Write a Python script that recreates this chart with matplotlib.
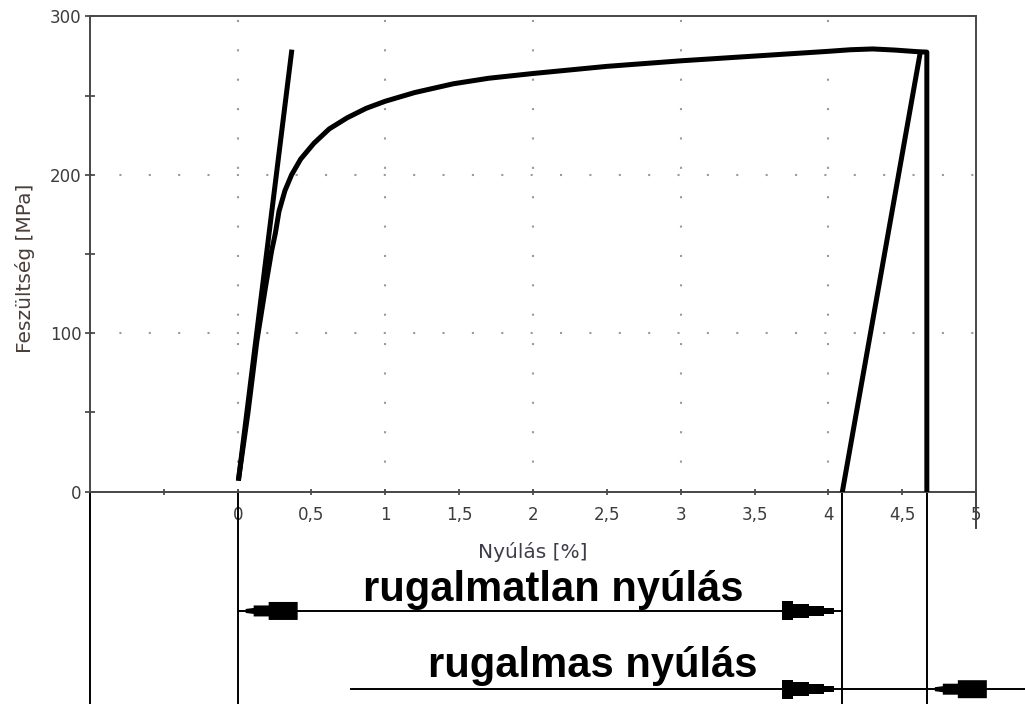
import numpy as np
import matplotlib
matplotlib.use("Agg")
import matplotlib.pyplot as plt
from matplotlib.patches import Polygon
from matplotlib.transforms import ScaledTranslation

# stress-strain curve (strain %, stress MPa)
curve_x = [0.007, 0.07, 0.13, 0.19, 0.23, 0.255, 0.28, 0.32, 0.365, 0.427, 0.517,
           0.62, 0.741, 0.87, 1.0, 1.2, 1.46, 1.7, 2.0, 2.5, 3.0, 3.5, 4.0, 4.15,
           4.3, 4.45, 4.6, 4.667, 4.667]
curve_y = [8.5, 50, 95, 130, 152, 163, 177, 190, 200, 210, 220,
           229, 236, 242, 246.5, 252, 257.5, 261, 264, 268.5, 272, 275, 278, 279,
           279.5, 278.8, 277.8, 277.5, 0]

# elastic (Hooke) line and the unloading line
elastic_x = [0.007, 0.365]
elastic_y = [8.5, 277.5]
unload_x = [4.095, 4.62]
unload_y = [0, 276]

xticks = [-0.5, 0, 0.5, 1, 1.5, 2, 2.5, 3, 3.5, 4, 4.5, 5]
yticks = [0, 100, 200, 300]
yminor = [50, 150, 250]
grid_x = [0, 1, 2, 3, 4]
grid_y = [100, 200]

# dimension lines below the chart
x_break = 4.095      # foot of unloading line
x_end = 4.667        # fracture strain
dim1_y = -75.3
dim2_y = -124.7
dim2_start = 0.766
bottom_y = -140

label_col = "#3c3c3c"

fig = plt.figure(figsize=(10.25, 7.04), dpi=100)
ax = fig.add_axes([0.0878, 0.3016, 0.8644, 0.675])
ax.set_xlim(-1, 5)
ax.set_ylim(0, 300)

for s in ax.spines.values():
    s.set_color("#484848")
    s.set_linewidth(1.4)

# sparse dotted grid
for gx in grid_x:
    ax.axvline(gx, color="#9a9a9a", lw=1.5, ls=(0, (1.0, 13.1)), zorder=1)
for gy in grid_y:
    ax.axhline(gy, color="#9a9a9a", lw=1.5, ls=(0, (1.0, 13.1)), zorder=1)

ax.plot(curve_x, curve_y, color="black", lw=3.6, zorder=3)
ax.plot(elastic_x, elastic_y, color="black", lw=3.6, zorder=3)
ax.plot(unload_x, unload_y, color="black", lw=3.6, zorder=3)

ax.set_xticks(xticks)
ax.set_xticklabels(["" if v < 0 else f"{v:g}".replace(".", ",") for v in xticks])
ax.set_yticks(yticks)
ax.set_yticks(yminor, minor=True)
ax.tick_params(axis="x", direction="inout", length=5, width=1.2, color="#404040",
               labelsize=12, labelcolor=label_col, pad=8)
ax.tick_params(axis="y", which="both", direction="inout", length=6.5, width=1.2,
               color="#404040", labelsize=12, labelcolor=label_col, pad=3)

ax.set_xlabel("Nyúlás [%]", fontsize=14.5, color="#3d3d4a", va="top")
ax.xaxis.set_label_coords(0.5, -0.105)
ax.set_ylabel("Feszültség [MPa]", fontsize=14.5, color="#4a3e38", va="center")
ax.yaxis.set_label_coords(-0.0734, 0.469)

# extension lines running below the axis
thin = dict(color="black", lw=1.4, clip_on=False, zorder=2)
for vx in [-1, 0, x_break, x_end]:
    ax.plot([vx, vx], [0, bottom_y], **thin)
ax.plot([5, 5], [0, -23], color="#404040", lw=1.4, clip_on=False)
ax.plot([0, x_break], [dim1_y, dim1_y], **thin)
ax.plot([dim2_start, 5.6], [dim2_y, dim2_y], **thin)

# arrow heads, shapes in pixels (distance from tip, half height)
left_shape = [(0, 2), (8, 3), (8, 5.5), (23, 5.5), (23, 9), (52, 9)]
right_shape = [(0, 3), (10, 3), (10, 5), (25, 5), (25, 7), (41, 7),
               (41, 9.5), (52, 9.5)]


def arrow_head(x, y, direction, shape):
    # direction -1: points left, tip 8 px right of x; +1: points right
    sign = -direction
    top = [(sign * (8 + d), h) for d, h in shape]
    bot = [(sign * (8 + d), -h) for d, h in reversed(shape)]
    verts = np.array(top + bot) / fig.dpi
    tr = fig.dpi_scale_trans + ScaledTranslation(x, y, ax.transData)
    ax.add_patch(Polygon(verts, closed=True, transform=tr, facecolor="black",
                         edgecolor="none", clip_on=False, zorder=4))


arrow_head(0, dim1_y, -1, left_shape)
arrow_head(x_break, dim1_y, 1, right_shape)
arrow_head(x_break, dim2_y, 1, right_shape)
arrow_head(x_end, dim2_y, -1, left_shape)

big = dict(fontsize=30, fontweight="bold", family="Liberation Sans", color="black",
           ha="center", va="baseline", clip_on=False)
ax.text(2.139, -69, "rugalmatlan nyúlás", **big)
ax.text(2.403, -117, "rugalmas nyúlás", **big)

fig.savefig("out.png", dpi=100)
